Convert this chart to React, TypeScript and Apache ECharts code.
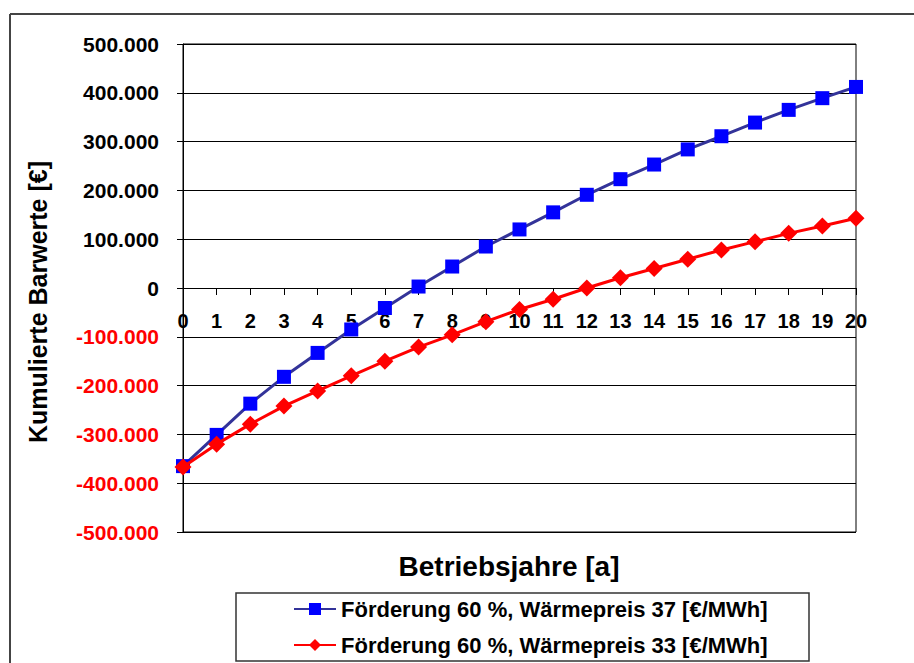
import React, { useEffect, useRef } from "react";
import * as echarts from "echarts";

const years = [0, 1, 2, 3, 4, 5, 6, 7, 8, 9, 10, 11, 12, 13, 14, 15, 16, 17, 18, 19, 20];
const seriesNames = [
  "Förderung 60 %, Wärmepreis 37 [€/MWh]",
  "Förderung 60 %, Wärmepreis 33 [€/MWh]",
];
const blueValues = [
  -365000, -301000, -237000, -182000, -133000, -85000, -41000, 3000, 44000, 85000,
  120000, 155000, 191000, 223000, 253000, 284000, 311000, 339000, 365000, 389000, 412000,
];
const redValues = [
  -367000, -320000, -279000, -242000, -211000, -180000, -150000, -121000, -96000, -69000,
  -44000, -23000, 0, 21000, 40000, 59000, 78000, 95000, 112000, 127000, 143000,
];
const yMin = -500000;
const yMax = 500000;
const yTitle = "Kumulierte Barwerte [€]";
const xTitle = "Betriebsjahre [a]";

const FONT = "'Liberation Sans', Arial, sans-serif";

function fmt(v: number): string {
  const neg = v < 0;
  const s = Math.abs(Math.round(v)).toString().replace(/\B(?=(\d{3})+(?!\d))/g, ".");
  return (neg ? "-" : "") + s;
}

const GRID_TOP = 44;
const GRID_BOTTOM = 131;
const H = 663;
const plotH = H - GRID_TOP - GRID_BOTTOM;
// place the x axis at the y = 0 position of the value scale
const xAxisOffset = -((0 - yMin) / (yMax - yMin)) * plotH;

export default function App() {
  const ref = useRef<HTMLDivElement>(null);
  useEffect(() => {
    if (!ref.current) return;
    const chart = echarts.init(ref.current, undefined, { renderer: "svg" });
    chart.setOption({
      animation: false,
      backgroundColor: "#ffffff",
      grid: {
        left: 183,
        top: GRID_TOP,
        right: 58,
        bottom: GRID_BOTTOM,
        show: true,
        borderColor: "#000",
        borderWidth: 1,
        backgroundColor: "transparent",
      },
      xAxis: {
        type: "value",
        min: 0,
        max: 20,
        interval: 1,
        offset: xAxisOffset,
        axisLine: { show: true, onZero: false, lineStyle: { color: "#000", width: 1 } },
        axisTick: { show: true, length: 7, lineStyle: { color: "#000" } },
        axisLabel: {
          margin: 23,
          fontFamily: FONT,
          fontWeight: "bold",
          fontSize: 20,
          color: "#000",
        },
        splitLine: { show: false },
      },
      yAxis: {
        type: "value",
        min: yMin,
        max: yMax,
        interval: 100000,
        axisLine: { show: true, onZero: false, lineStyle: { color: "#000" } },
        axisTick: { show: true, length: 6, lineStyle: { color: "#000" } },
        axisLabel: {
          margin: 24,
          fontFamily: FONT,
          fontWeight: "bold",
          fontSize: 21,
          formatter: (v: number) => fmt(v),
          color: (v: any) => (Number(v) < 0 ? "#FF0000" : "#000000"),
        },
        splitLine: { show: true, lineStyle: { color: "#000", width: 1 } },
      },
      legend: {
        orient: "vertical",
        left: 293,
        top: 598,
        padding: 0,
        itemWidth: 42,
        itemHeight: 15,
        itemGap: 14,
        textStyle: { fontFamily: FONT, fontWeight: "bold", fontSize: 22, lineHeight: 22, color: "#000" },
        data: seriesNames,
      },
      series: [
        {
          name: seriesNames[0],
          type: "line",
          data: years.map((x, i) => [x, blueValues[i]]),
          symbol: "rect",
          symbolSize: 14,
          itemStyle: { color: "#0000FF" },
          lineStyle: { color: "#333399", width: 3 },
          z: 3,
        },
        {
          name: seriesNames[1],
          type: "line",
          data: years.map((x, i) => [x, redValues[i]]),
          symbol: "diamond",
          symbolSize: 17,
          itemStyle: { color: "#FF0000" },
          lineStyle: { color: "#FF0000", width: 3 },
          z: 4,
        },
      ],
      graphic: [
        {
          type: "line",
          shape: { x1: 10, y1: 14, x2: 914, y2: 14 },
          style: { stroke: "#444", lineWidth: 2 },
        },
        {
          type: "line",
          shape: { x1: 10, y1: 14, x2: 10, y2: 663 },
          style: { stroke: "#444", lineWidth: 2 },
        },
        {
          type: "rect",
          shape: { x: 236, y: 593, width: 573, height: 68 },
          style: { fill: "none", stroke: "#333", lineWidth: 1.5 },
        },
        {
          type: "text",
          x: 38,
          y: 302,
          rotation: Math.PI / 2,
          style: {
            text: yTitle,
            fontFamily: FONT,
            fontWeight: "bold",
            fontSize: 25,
            fill: "#000",
            textAlign: "center",
            textVerticalAlign: "middle",
          },
        },
        {
          type: "text",
          x: 509,
          y: 566,
          style: {
            text: xTitle,
            fontFamily: FONT,
            fontWeight: "bold",
            fontSize: 28,
            fill: "#000",
            textAlign: "center",
            textVerticalAlign: "middle",
          },
        },
      ],
    });
    return () => chart.dispose();
  }, []);
  return (
    <div
      ref={ref}
      style={{ position: "fixed", left: 0, top: 0, width: 914, height: 663 }}
    />
  );
}
